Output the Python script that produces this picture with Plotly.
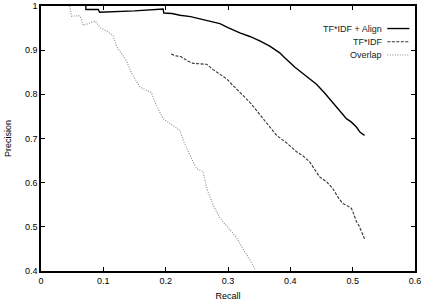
import plotly.graph_objects as go

# TF*IDF + Align
align_recall = [0.072, 0.072, 0.092, 0.094, 0.150, 0.196, 0.197, 0.210, 0.223, 0.240, 0.255, 0.270,
                0.287, 0.300, 0.319, 0.335, 0.351, 0.367, 0.383, 0.391, 0.399, 0.407, 0.415, 0.428,
                0.442, 0.455, 0.468, 0.479, 0.490, 0.498, 0.506, 0.512, 0.519]
align_prec = [1.000, 0.992, 0.992, 0.986, 0.989, 0.993, 0.984, 0.983, 0.979, 0.976, 0.971, 0.966,
              0.960, 0.951, 0.939, 0.931, 0.921, 0.909, 0.894, 0.883, 0.872, 0.862, 0.853, 0.839,
              0.823, 0.803, 0.782, 0.764, 0.745, 0.737, 0.726, 0.714, 0.707]

# TF*IDF
tfidf_recall = [0.209, 0.217, 0.225, 0.235, 0.244, 0.255, 0.266, 0.276, 0.287, 0.298, 0.308, 0.322,
                0.335, 0.346, 0.356, 0.367, 0.378, 0.394, 0.410, 0.421, 0.431, 0.440, 0.447, 0.458,
                0.468, 0.477, 0.484, 0.491, 0.498, 0.502, 0.506, 0.510, 0.514, 0.519]
tfidf_prec = [0.891, 0.887, 0.885, 0.876, 0.870, 0.869, 0.868, 0.856, 0.846, 0.835, 0.820, 0.801,
              0.782, 0.763, 0.745, 0.725, 0.707, 0.690, 0.670, 0.660, 0.647, 0.628, 0.613, 0.602,
              0.587, 0.566, 0.553, 0.548, 0.542, 0.528, 0.512, 0.503, 0.490, 0.473]

# Overlap
overlap_recall = [0.046, 0.049, 0.0625, 0.068, 0.087, 0.095, 0.106, 0.116, 0.121, 0.129, 0.137, 0.145,
                  0.159, 0.177, 0.185, 0.196, 0.210, 0.223, 0.229, 0.236, 0.243, 0.250, 0.260, 0.266,
                  0.276, 0.287, 0.300, 0.314, 0.322, 0.330, 0.337, 0.343]
overlap_prec = [1.000, 0.977, 0.978, 0.956, 0.966, 0.951, 0.943, 0.932, 0.909, 0.893, 0.876, 0.849,
                0.816, 0.804, 0.775, 0.745, 0.731, 0.718, 0.693, 0.670, 0.650, 0.632, 0.625, 0.587,
                0.550, 0.520, 0.498, 0.475, 0.455, 0.438, 0.421, 0.404]

series_names = ["TF*IDF + Align", "TF*IDF", "Overlap"]
x_ticks = [0, 0.1, 0.2, 0.3, 0.4, 0.5, 0.6]
y_ticks = [0.4, 0.5, 0.6, 0.7, 0.8, 0.9, 1]

FONT = "Liberation Sans, Arial, sans-serif"

styles = [
    dict(color="#000000", width=1.4, dash="solid"),
    dict(color="#333333", width=1.1, dash="3px,1.5px"),
    dict(color="#888888", width=1.1, dash="1px,1.5px"),
]

fig = go.Figure()
for name, xs, ys, st in zip(series_names,
                            [align_recall, tfidf_recall, overlap_recall],
                            [align_prec, tfidf_prec, overlap_prec], styles):
    fig.add_trace(go.Scatter(x=xs, y=ys, mode="lines", name=name, line=st, showlegend=False))

# custom legend (text right-aligned, sample line to the right)
leg_y = [0.915, 0.865, 0.815]
for name, yy, st in zip(series_names, leg_y, styles):
    fig.add_annotation(xref="paper", yref="paper", x=0.918, y=yy, text=name, showarrow=False,
                       xanchor="right", yanchor="middle",
                       font=dict(family=FONT, size=9, color="#222"))
    fig.add_shape(type="line", xref="paper", yref="paper", x0=0.926, x1=0.985, y0=yy, y1=yy,
                  line=st)

axis_common = dict(
    showgrid=False, zeroline=False, showline=True, linecolor="#000", linewidth=1.5, mirror="ticks",
    ticks="inside", ticklen=4, tickwidth=1, tickcolor="#000",
    tickfont=dict(family=FONT, size=9, color="#000"),
    ticklabeloverflow="allow", automargin=False,
)
fig.update_xaxes(range=[0, 0.6], tickvals=x_ticks, ticktext=[str(v) for v in x_ticks],
                 title=dict(text="Recall", standoff=8, font=dict(family=FONT, size=9, color="#000")),
                 **axis_common)
fig.update_yaxes(range=[0.4, 1.0], tickvals=y_ticks, ticktext=[str(v) for v in y_ticks],
                 title=dict(text="Precision", standoff=12, font=dict(family=FONT, size=9, color="#000")),
                 **axis_common)

fig.update_layout(width=423, height=302, margin=dict(l=41, r=8, t=6, b=31),
                  plot_bgcolor="white", paper_bgcolor="white")
fig.write_html("out.html")
